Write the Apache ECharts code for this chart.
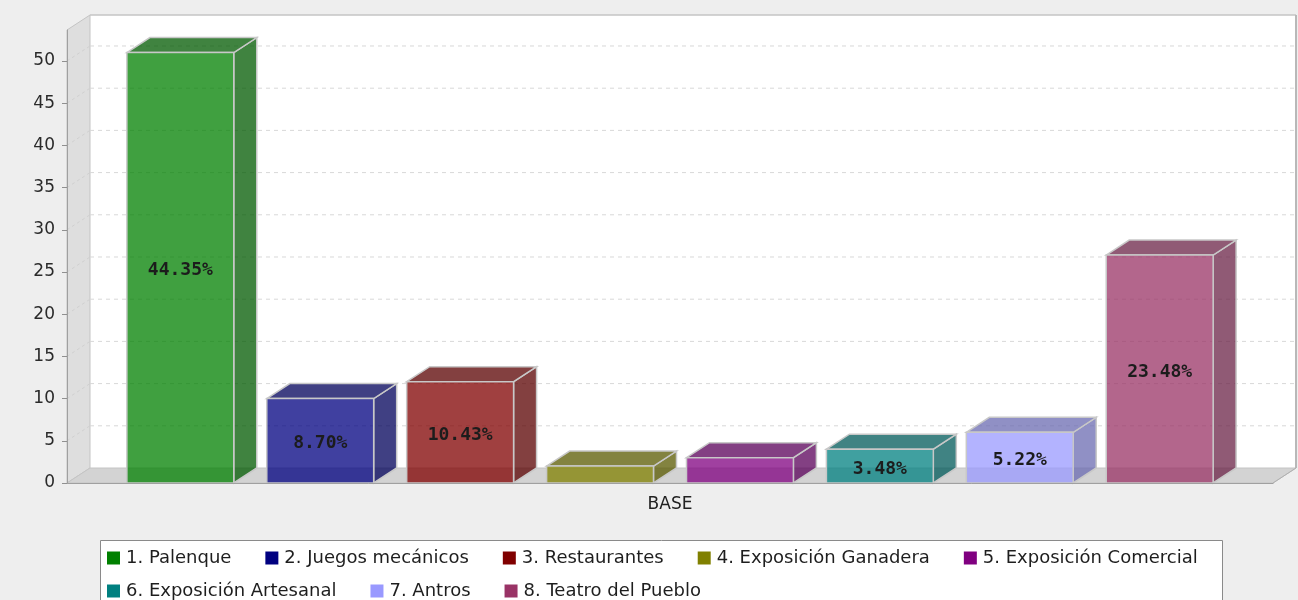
<!DOCTYPE html>
<html>
<head>
<meta charset="utf-8">
<script src="https://cdn.jsdelivr.net/npm/echarts@6/dist/echarts.min.js"></script>
<style>
html,body{margin:0;padding:0;background:#eeeeee;}
#chart{width:1298px;height:600px;}
</style>
</head>
<body>
<div id="chart"></div>
<script>
// ---- data ----
const categories = ['1. Palenque', '2. Juegos mecánicos', '3. Restaurantes', '4. Exposición Ganadera',
  '5. Exposición Comercial', '6. Exposición Artesanal', '7. Antros', '8. Teatro del Pueblo'];
const values = [51, 10, 12, 2, 3, 4, 6, 27];
const axisCategory = ['BASE'];
const yTicks = [0, 5, 10, 15, 20, 25, 30, 35, 40, 45, 50];

// ---- styles ----
const palette = ['#008000', '#000080', '#800000', '#808000', '#800080', '#008080', '#9999ff', '#993366'];
const DX = 23, DY = -15;           // 3D depth offset (px)
const BAR_FRAC = 0.764;            // bar width as fraction of slot
const FONT = 'DejaVu Sans';
const total = values.reduce((a, b) => a + b, 0);

function darker(hex) {
  const n = parseInt(hex.slice(1), 16);
  const r = Math.floor(((n >> 16) & 255) * 0.7), g = Math.floor(((n >> 8) & 255) * 0.7), b = Math.floor((n & 255) * 0.7);
  return 'rgb(' + r + ',' + g + ',' + b + ')';
}
function rgba(col, a) {
  if (col[0] === '#') {
    const n = parseInt(col.slice(1), 16);
    return 'rgba(' + ((n >> 16) & 255) + ',' + ((n >> 8) & 255) + ',' + (n & 255) + ',' + a + ')';
  }
  return col.replace('rgb(', 'rgba(').replace(')', ',' + a + ')');
}

const chart = echarts.init(document.getElementById('chart'), null, {renderer: 'canvas'});

const frameSeries = {
  type: 'custom',
  name: '__frame',
  xAxisIndex: 0, yAxisIndex: 0,
  z: 1,
  silent: true,
  data: [[0, 0]],
  renderItem: function (params, api) {
    const cs = params.coordSys;
    const x0 = cs.x, x1 = cs.x + cs.width, yT = cs.y, yB = cs.y + cs.height;
    const children = [];
    children.push({type: 'rect', shape: {x: x0 + DX, y: yT + DY, width: cs.width, height: cs.height},
      style: {fill: '#ffffff', stroke: null}});
    children.push({type: 'polygon', shape: {points: [[x0, yB], [x0 + DX, yB + DY], [x0 + DX, yT + DY], [x0, yT]]},
      style: {fill: '#dedede', stroke: '#c4c4c4', lineWidth: 1}});
    children.push({type: 'polygon', shape: {points: [[x0, yB], [x1, yB], [x1 + DX, yB + DY], [x0 + DX, yB + DY]]},
      style: {fill: '#d3d3d3', stroke: '#c4c4c4', lineWidth: 1}});
    yTicks.forEach(function (t) {
      if (t === 0) return;
      const y = api.coord([0, t])[1];
      children.push({type: 'line', shape: {x1: x0 + DX, y1: y + DY, x2: x1 + DX, y2: y + DY},
        style: {stroke: '#d8d8d8', lineWidth: 1, lineDash: [4, 4]}});
      children.push({type: 'line', shape: {x1: x0, y1: y, x2: x0 + DX, y2: y + DY},
        style: {stroke: '#d0d0d0', lineWidth: 1, lineDash: [3, 3]}});
    });
    children.push({type: 'line', shape: {x1: x0 + DX, y1: yT + DY, x2: x1 + DX, y2: yT + DY},
      style: {stroke: '#c4c4c4', lineWidth: 1.5}});
    children.push({type: 'line', shape: {x1: x1 + DX, y1: yT + DY, x2: x1 + DX, y2: yB + DY},
      style: {stroke: '#b8b8b8', lineWidth: 2}});
    children.push({type: 'line', shape: {x1: x1, y1: yB, x2: x1 + DX, y2: yB + DY},
      style: {stroke: '#b0b0b0', lineWidth: 1}});
    return {type: 'group', children: children};
  }
};

const barSeries = categories.map(function (name, i) {
  const base = palette[i];
  const dk = darker(base);
  return {
    type: 'custom',
    name: name,
    xAxisIndex: 0, yAxisIndex: 0,
    z: 2,
    itemStyle: {color: base},
    data: [[i, values[i]]],
    encode: {x: 0, y: 1},
    renderItem: function (params, api) {
      const xi = api.value(0), v = api.value(1);
      const pB = api.coord([xi, 0]);
      const pT = api.coord([xi, v]);
      const w = api.size([1, 0])[0] * BAR_FRAC;
      const xl = pB[0] - w / 2, xr = pB[0] + w / 2, yb = pB[1], yt = pT[1];
      const outline = {stroke: '#c8c8c8', lineWidth: 1.5};
      const children = [
        {type: 'polygon', shape: {points: [[xr, yb], [xr, yt], [xr + DX, yt + DY], [xr + DX, yb + DY]]},
          style: Object.assign({fill: rgba(dk, 0.75)}, outline)},
        {type: 'polygon', shape: {points: [[xl, yt], [xl + DX, yt + DY], [xr + DX, yt + DY], [xr, yt]]},
          style: Object.assign({fill: rgba(dk, 0.75)}, outline)},
        {type: 'rect', shape: {x: xl, y: yt, width: w, height: yb - yt},
          style: Object.assign({fill: rgba(base, 0.75)}, outline)}
      ];
      if (yb - yt > 28) {
        children.push({type: 'text', x: (xl + xr) / 2, y: (yt + yb) / 2 + 3,
          style: {text: (v / total * 100).toFixed(2) + '%', align: 'center', verticalAlign: 'middle',
            fill: '#1c1c1c', font: 'bold 18px "DejaVu Sans Mono"'}});
      }
      return {type: 'group', children: children};
    }
  };
});

const legendCommon = {
  orient: 'horizontal',
  padding: 0,
  itemWidth: 13, itemHeight: 13, itemGap: 34,
  icon: 'rect',
  textStyle: {fontFamily: FONT, fontSize: 18, color: '#1e1e1e', lineHeight: 14, padding: [0, 0, 0, 1]}
};

chart.setOption({
  backgroundColor: '#eeeeee',
  animation: false,
  grid: {left: 67, right: 25, top: 30, bottom: 117, containLabel: false},
  graphic: [{
    type: 'rect', z: 0, silent: true,
    shape: {x: 100.5, y: 540.5, width: 1122, height: 80},
    style: {fill: '#ffffff', stroke: '#8a8a8a', lineWidth: 1}
  }],
  legend: [
    Object.assign({data: categories.slice(0, 5), left: 107, top: 549}, legendCommon),
    Object.assign({data: categories.slice(5), left: 107, top: 582}, legendCommon)
  ],
  xAxis: [
    {type: 'value', min: -0.81, max: 7.81, show: false},
    {type: 'category', data: axisCategory, position: 'bottom', z: 3,
      axisLine: {show: true, onZero: false, lineStyle: {color: '#a0a0a0', width: 1}},
      axisTick: {show: false},
      axisLabel: {fontFamily: FONT, fontSize: 17, color: '#222', margin: 13},
      splitLine: {show: false}}
  ],
  yAxis: [{
    type: 'value', min: 0, max: 53.67, interval: 5, z: 3,
    axisLine: {show: true, onZero: false, lineStyle: {color: '#a0a0a0', width: 1}},
    axisTick: {show: true, length: 5, inside: false, customValues: yTicks, lineStyle: {color: '#909090'}},
    axisLabel: {fontFamily: FONT, fontSize: 17, color: '#2a2a2a', margin: 12, customValues: yTicks},
    splitLine: {show: false}
  }],
  series: [frameSeries].concat(barSeries)
});
</script>
</body>
</html>
